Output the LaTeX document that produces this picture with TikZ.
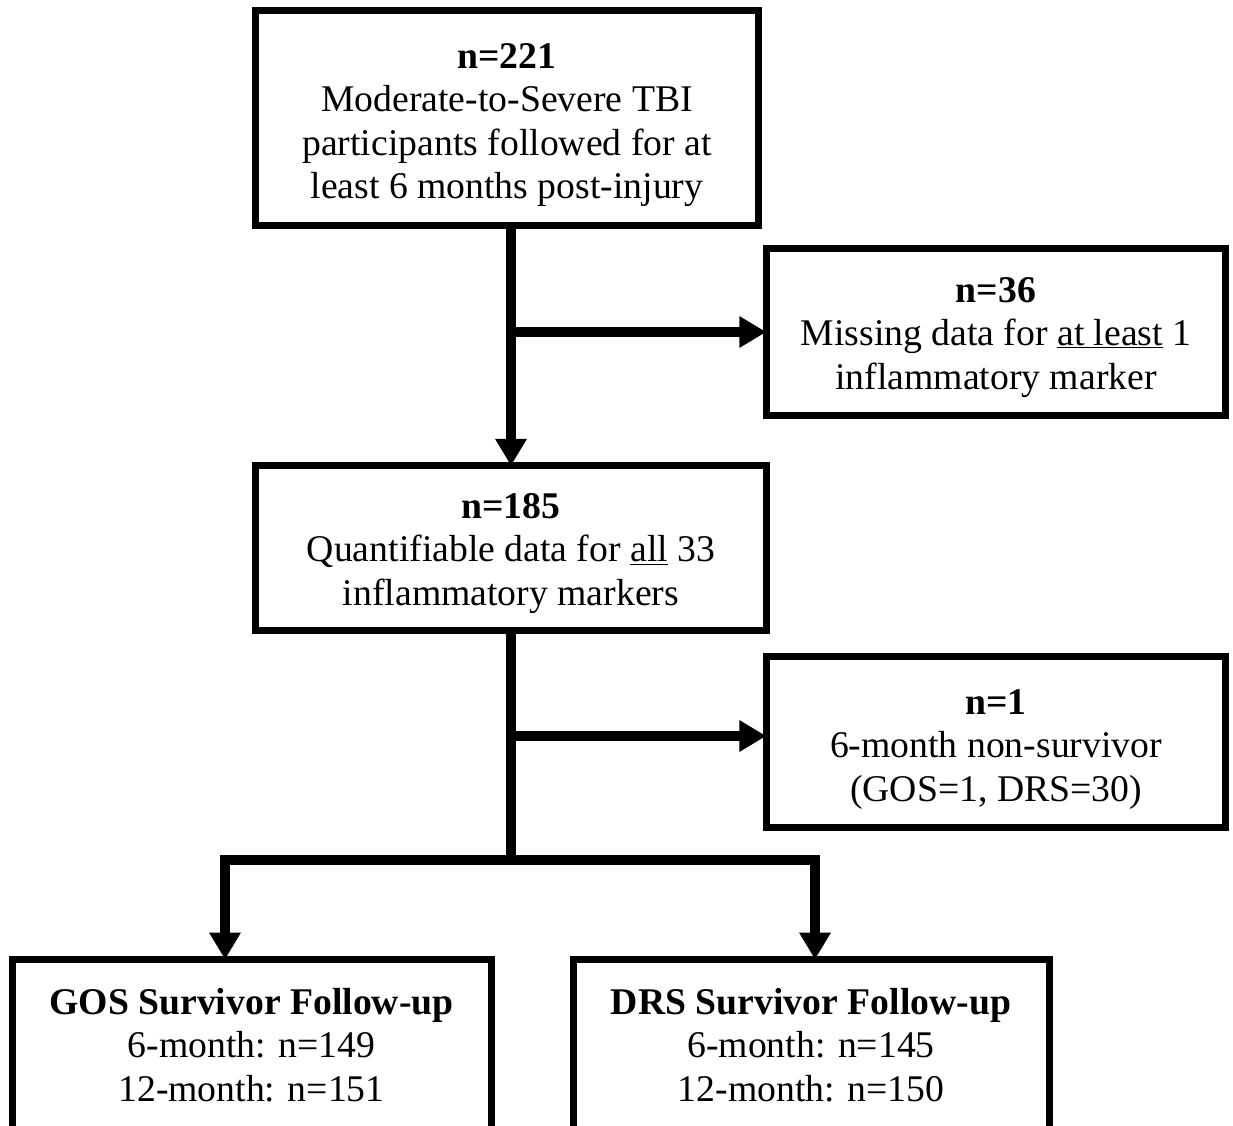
\documentclass[tikz,border=0pt]{standalone}
\usepackage{fontspec}
\setmainfont{Liberation Serif}
\usetikzlibrary{arrows.meta,calc}
\begin{document}
\begin{tikzpicture}[x=1pt,y=-1pt,
  box/.style={draw=black,line width=7pt,rectangle,inner sep=0pt,outer sep=0pt,line join=miter},
  txt/.style={inner sep=0pt,align=center,font=\fontsize{37.7}{43.5}\selectfont},
  conn/.style={line width=10pt,draw=black,line join=miter},
  tip/.style={-{Triangle[length=27pt,width=30pt]}},
  tips/.style={{Triangle[length=27pt,width=30pt]}-{Triangle[length=27pt,width=30pt]}}]
\useasboundingbox[fill=white] (0,0) rectangle (1233,1125);
\node[box,minimum width=503pt,minimum height=214.5pt] (b1) at (507,118) {};
\node[txt] (t1) at ($(b1.center)+(0,7)$)
  {\textbf{n=221}\\Moderate-to-Severe TBI\\participants followed for at\\least 6 months post-injury};
\node[box,minimum width=459.5pt,minimum height=166.5pt] (b2) at (996,332) {};
\node[txt] (t2) at ($(b2.center)+(0,5.5)$)
  {\textbf{n=36}\\Missing data for \underline{at least} 1\\inflammatory marker};
\node[box,minimum width=511.5pt,minimum height=164.5pt] (b3) at (511,548) {};
\node[txt] (t3) at ($(b3.center)+(0,5.5)$)
  {\textbf{n=185}\\Quantifiable data for \underline{all} 33\\inflammatory markers};
\node[box,minimum width=459.5pt,minimum height=171pt] (b4) at (996,741.5) {};
\node[txt] (t4) at ($(b4.center)+(0,8)$)
  {\textbf{n=1}\\6-month non-survivor\\(GOS=1, DRS=30)};
\node[box,minimum width=479pt,minimum height=171pt] (b5) at (251.5,1045) {};
\node[txt] (t5) at (b5.center)
  {\textbf{GOS Survivor Follow-up}\\6-month: n=149\\12-month: n=151};
\node[box,minimum width=476pt,minimum height=171pt] (b6) at (811,1045) {};
\node[txt] (t6) at (b6.center)
  {\textbf{DRS Survivor Follow-up}\\6-month: n=145\\12-month: n=150};
\coordinate (j1) at (511,332);
\coordinate (j2) at (511,736);
\coordinate (bar) at (511,860);
\coordinate (bl) at (225,860);
\coordinate (br) at (815,860);
\draw[conn,tip] (b1.south -| b3.north) -- (b3.north);
\draw[conn,tip] (j1) -- (j1 -| b2.west);
\draw[conn] (b3.south) -- (bar);
\draw[conn,tip] (j2) -- (j2 -| b4.west);
\draw[conn,tips] (bl |- b5.north) -- (bl) -- (br) -- (br |- b6.north);
\end{tikzpicture}
\end{document}
